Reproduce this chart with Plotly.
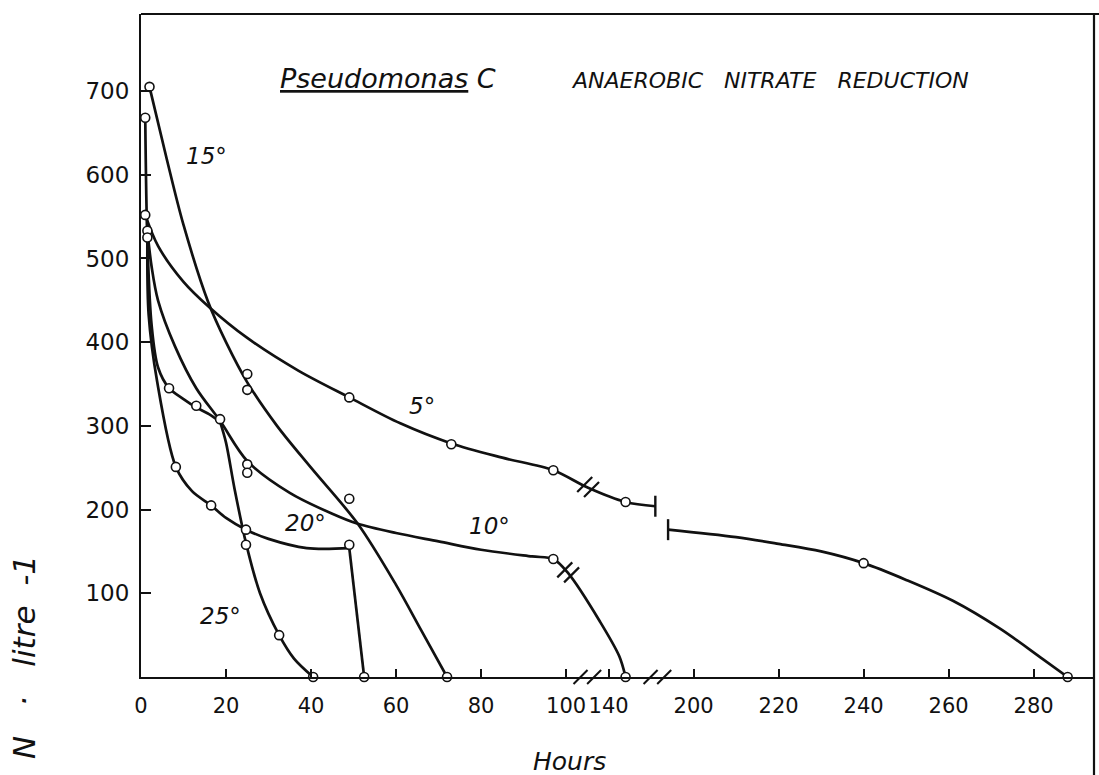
import numpy as np
import plotly.graph_objects as go

# ---------------------------------------------------------------------------
# Broken time axis: hours -> position along the drawn axis
# (the axis is cut between ~104-136 h and ~151-192 h)
# ---------------------------------------------------------------------------
BREAK_HOURS = [0, 104, 136, 151, 192, 400]
BREAK_POS = [0, 104, 106, 121, 122, 330]


def axis_pos(hours):
    return np.interp(np.asarray(hours, dtype=float), BREAK_HOURS, BREAK_POS)


tick_hours = [0, 20, 40, 60, 80, 100, 140, 200, 220, 240, 260, 280]
tick_labels = ["0", "20", "40", "60", "80", "100", "140", "200", "220", "240", "260", "280"]
y_ticks = [100, 200, 300, 400, 500, 600, 700]
y_tick_labels = ["100", "200", "300", "400", "500", "600", "700"]
axis_cut_hours = [120, 171]          # where the "//" marks sit on the time axis

# ---------------------------------------------------------------------------
# Measured nitrate-N (µg / litre) at each temperature
# ---------------------------------------------------------------------------
t5_hours = [1, 49, 73, 97, 144, 240, 288]
t5_nitrate = [552, 334, 278, 247, 209, 136, 0]

t10_hours = [1.5, 25, 25, 97, 144]
t10_nitrate = [533, 254, 244, 141, 0]

t15_hours = [2, 25, 25, 49, 72]
t15_nitrate = [705, 362, 343, 213, 0]

t20_hours = [1.5, 8.2, 16.5, 24.7, 49, 52.5]
t20_nitrate = [525, 251, 205, 176, 158, 0]

t25_hours = [1, 6.6, 13, 18.6, 24.7, 32.5, 40.5]
t25_nitrate = [668, 345, 324, 308, 158, 50, 0]

# ---------------------------------------------------------------------------
# Hand-fitted curves through the measurements
# ---------------------------------------------------------------------------
c5a_hours = [1, 4, 10, 16, 25, 37, 49, 61, 73, 85, 97, 123, 144, 151]
c5a_nitrate = [552, 515, 472, 442, 405, 366, 334, 303, 279, 262, 247, 226, 209, 204]
c5b_hours = [194, 210, 220, 230, 240, 250, 261, 272, 282, 288]
c5b_nitrate = [176, 167, 159, 150, 136, 116, 91, 58, 22, 0]

c10_hours = [1.5, 2.5, 4, 8, 13, 18.6, 25, 35, 45, 51, 60, 70, 80, 92, 97, 100.5, 138, 142.5, 144]
c10_nitrate = [533, 490, 450, 395, 345, 306, 258, 220, 195, 183, 172, 162, 152, 144, 141, 124, 66, 25, 0]

c15_hours = [2, 6, 10, 15.8, 20, 25, 32, 40, 51, 60, 66, 72]
c15_nitrate = [705, 620, 540, 448, 400, 352, 300, 250, 183, 110, 55, 0]

c20_hours = [1.5, 1.8, 3.8, 8.2, 12, 16.5, 20, 24.7, 30, 39, 49]
c20_nitrate = [525, 433, 353, 251, 222, 205, 190, 176, 165, 154, 154]
c20_drop_hours = [49, 52.5]
c20_drop_nitrate = [154, 0]

c25_hours = [1, 1.5, 2.5, 4, 6.6, 10, 13, 16, 18.6]
c25_nitrate = [668, 520, 420, 370, 345, 332, 322, 314, 305]
c25_tail_hours = [18.6, 20, 22, 24.7, 28, 32.5, 36, 40.5]
c25_tail_nitrate = [305, 280, 225, 160, 100, 50, 22, 0]

# "//" marks on the curves and the end bars of the 5° curve
curve_cut_hours = [123, 100.5]
curve_cut_nitrate = [226, 124]
end_bar_hours = [151, 194]
end_bar_nitrate = [204, 176]

# temperature labels
temp_labels = ["5°", "10°", "15°", "20°", "25°"]
temp_label_hours = [66, 82, 15.5, 38.6, 18.6]
temp_label_nitrate = [324, 180, 622, 184, 73]

INK = "#111111"
LW = 2.7
FONT = "DejaVu Sans"

fig = go.Figure()


def add_curve(hours, values, shape="spline"):
    fig.add_trace(go.Scatter(
        x=axis_pos(hours), y=values, mode="lines",
        line=dict(color=INK, width=LW, shape=shape, smoothing=0.9),
        hoverinfo="skip", cliponaxis=False))


add_curve(c5a_hours, c5a_nitrate)
add_curve(c5b_hours, c5b_nitrate)
add_curve(c10_hours, c10_nitrate)
add_curve(c15_hours, c15_nitrate)
add_curve(c20_hours, c20_nitrate)
add_curve(c20_drop_hours, c20_drop_nitrate, shape="linear")
add_curve(c25_hours, c25_nitrate)
add_curve(c25_tail_hours, c25_tail_nitrate)

# double slash marks across the curves
for h, v in zip(curve_cut_hours, curve_cut_nitrate):
    p = float(axis_pos([h])[0])
    fig.add_trace(go.Scatter(
        x=[p - 0.8, p + 0.8], y=[v + 4, v - 2], mode="markers",
        marker=dict(symbol="line-ne", size=15, line=dict(color=INK, width=2.2)),
        hoverinfo="skip", cliponaxis=False))

# end bars of the two 5° segments
fig.add_trace(go.Scatter(
    x=axis_pos(end_bar_hours), y=end_bar_nitrate, mode="markers",
    marker=dict(symbol="line-ns", size=15, line=dict(color=INK, width=2.4)),
    hoverinfo="skip", cliponaxis=False))

# measured points: small open circles
for hrs, vals in [(t5_hours, t5_nitrate), (t10_hours, t10_nitrate), (t15_hours, t15_nitrate),
                  (t20_hours, t20_nitrate), (t25_hours, t25_nitrate)]:
    fig.add_trace(go.Scatter(
        x=axis_pos(hrs), y=vals, mode="markers",
        marker=dict(symbol="circle", size=9, color="white", line=dict(color=INK, width=1.6)),
        hoverinfo="skip", cliponaxis=False))

# breaks in the time axis
for h in axis_cut_hours:
    p = float(axis_pos([h])[0])
    fig.add_trace(go.Scatter(
        x=[p - 1.2, p + 1.2], y=[0, 0], mode="lines",
        line=dict(color="white", width=5), hoverinfo="skip", cliponaxis=False))
    fig.add_trace(go.Scatter(
        x=[p - 1.6, p + 1.6], y=[0, 0], mode="markers",
        marker=dict(symbol="line-ne", size=14, line=dict(color=INK, width=2)),
        hoverinfo="skip", cliponaxis=False))

annotations = []
for txt, h, v in zip(temp_labels, temp_label_hours, temp_label_nitrate):
    annotations.append(dict(
        x=float(axis_pos([h])[0]), y=v, xref="x", yref="y", text=f"<i>{txt}</i>",
        showarrow=False, font=dict(family=FONT, size=23, color=INK)))

annotations += [
    dict(x=0.259, y=0.903, xref="paper", yref="paper", xanchor="center", yanchor="middle",
         text="<i><u>Pseudomonas</u> C</i>", showarrow=False,
         font=dict(family=FONT, size=27, color=INK)),
    dict(x=0.66, y=0.9, xref="paper", yref="paper", xanchor="center", yanchor="middle",
         text="<i>ANAEROBIC   NITRATE   REDUCTION</i>", showarrow=False,
         font=dict(family=FONT, size=22, color=INK)),
    dict(x=0.45, y=-0.128, xref="paper", yref="paper", xanchor="center", yanchor="middle",
         text="<i>Hours</i>", showarrow=False, font=dict(family=FONT, size=25, color=INK)),
    dict(x=-0.123, y=0.03, xref="paper", yref="paper", xanchor="center", yanchor="middle",
         text="<i>N   ·   litre  -1</i>", textangle=-90, showarrow=False,
         font=dict(family=FONT, size=31, color=INK)),
]

shapes = [
    # top and right frame lines of the panel
    dict(type="line", xref="paper", yref="paper", x0=0, x1=1.006, y0=1, y1=1,
         line=dict(color=INK, width=2.2)),
    dict(type="line", xref="paper", yref="paper", x0=1, x1=1, y0=1, y1=-0.16,
         line=dict(color=INK, width=2.2)),
]

fig.update_layout(
    width=1099, height=775,
    margin=dict(l=141, r=5, t=14, b=98),
    paper_bgcolor="white", plot_bgcolor="white",
    showlegend=False,
    annotations=annotations, shapes=shapes,
    xaxis=dict(range=[0, 224.2], tickmode="array",
               tickvals=axis_pos(tick_hours), ticktext=tick_labels, tickangle=0,
               ticks="inside", ticklen=8, tickwidth=2, tickcolor=INK,
               showline=True, linecolor=INK, linewidth=2.2,
               showgrid=False, zeroline=False, ticklabelstandoff=9,
               tickfont=dict(family=FONT, size=21, color=INK)),
    yaxis=dict(range=[0, 792], tickmode="array", tickvals=y_ticks, ticktext=y_tick_labels,
               ticks="inside", ticklen=10, tickwidth=2, tickcolor=INK,
               showline=True, linecolor=INK, linewidth=2.2,
               showgrid=False, zeroline=False, ticklabelstandoff=5,
               tickfont=dict(family=FONT, size=23, color=INK)),
)

fig.write_html("out.html")
